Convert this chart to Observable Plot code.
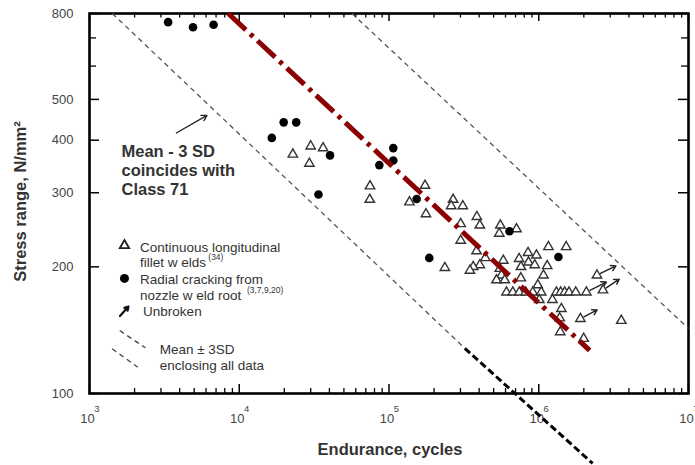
<!DOCTYPE html>
<html><head><meta charset="utf-8">
<script src="https://cdn.jsdelivr.net/npm/d3@7"></script>
<script src="https://cdn.jsdelivr.net/npm/@observablehq/plot@0.6"></script>
<style>
html,body{margin:0;padding:0;background:#fff;}
#chart svg{display:block;}
</style></head><body><div id="chart"></div>
<script>
// ---- data (endurance N in cycles, stress range S in N/mm²) ----
const filletWelds = [
  [22800,370],[30000,387],[36300,383],[29400,352],[74700,311],[74400,289],[137000,285],
  [174000,312],[176500,267],[268000,289],[260000,279],[311000,279],[386000,263],[404000,251],
  [301000,253],[301000,231],[554000,251],[545000,240],[710000,246],[384000,218],[440000,210],
  [404000,202],[365000,200],[347000,196],[236000,199],[580000,207],[550000,198],[564000,191],
  [522000,186],[593000,186],[739000,209],[761000,200],[848000,216],[965000,213],[854000,205],
  [940000,202],[759000,188],[1161000,223],[1525000,223],[1139000,201],[1075000,191],[985000,181],
  [609000,174],[671000,174],[741000,174],[819000,174],[912000,174],[1039000,174],[1312000,174],
  [1401000,174],[1491000,174],[1592000,174],[1765000,174],
  [1008000,167],[1234000,167],[1416000,159],[1380000,151],[1391000,140],[1995000,135],[3558000,149]
];
const unbrokenPoints = [[1897000,150.5],[2447000,191],[2684000,176],[2080000,174]];
const unbrokenTips   = [[2455000,158],[3276000,201],[3446000,187],[2827000,184]];
const nozzleRoot = [
  [3350,763],[4910,742],[6740,752],[16500,405],[19800,441],[24000,441],[40400,368],
  [33800,297],[106800,383],[106800,358],[86200,349],[153000,290],[185700,210],
  [637700,243],[1353000,211]
];
const lowerBound = [[1420,800],[321000,128]];
const lowerExtension = [[321000,128],[2290000,68.2]];
const upperBound = [[56650,800],[10000000,142.7]];
const designLine = [[8450,800],[2188000,126.6]];

const xTicks = [1e3,1e4,1e5,1e6,1e7];
const yTicks = [100,200,300,400,500,800];
const yMinor = [600,700];

// annotation anchors (data space)
const noteArrow = [[3800,416],[6090,458]];
const legendSamples = {
  triangle: [1712,224.8], circle: [1712,187.7],
  arrow: [[1597,152.8],[1820,161]],
  dash1: [[1592,141.1],[2362,128.4]], dash2: [[1417,127.7],[2099,115.5]]
};
const texts = [
  {t:"Mean - 3 SD\ncoincides with\nClass 71", N:1635, S:340.6, kind:"note"},
  {t:"Continuous longitudinal\nfillet w elds", N:2171, S:214.1, kind:"leg"},
  {t:"Radial cracking from\nnozzle w eld root", N:2171, S:179.4, kind:"leg"},
  {t:"Unbroken", N:2280, S:156.9, kind:"leg"},
  {t:"Mean \u00b1 3SD\nenclosing all data", N:2942, S:122.3, kind:"leg"}
];
const sups = [{t:"(34)", N:6214, S:210.2},{t:"(3,7,9,20)", N:11250, S:175.8}];

const xMinor = d3.scaleLog().domain([1e3,1e7]).ticks()
  .filter(d => Math.abs(Math.log10(d) - Math.round(Math.log10(d))) > 1e-9);

const FW = 599, FH = 380;
const P = d => d[0], Q = d => d[1];

const chart = Plot.plot({
  width: 695, height: 465,
  marginLeft: 89, marginRight: 7, marginTop: 13, marginBottom: 72,
  x: {type: "log", domain: [1e3, 1e7], axis: null},
  y: {type: "log", domain: [100, 800], axis: null},
  style: {fontFamily: "'Liberation Sans', Arial, sans-serif", background: "white", overflow: "visible"},
  marks: [
    // ticks (inward)
    Plot.ruleX(xTicks, {x: d => d, insetTop: FH - 9, stroke: "#000", strokeWidth: 1.5}),
    Plot.ruleX(xMinor, {x: d => d, insetTop: FH - 5, stroke: "#000", strokeWidth: 1.3}),
    Plot.ruleX(xTicks, {x: d => d, insetBottom: FH - 8, stroke: "#000", strokeWidth: 1.5}),
    Plot.ruleX(xMinor, {x: d => d, insetBottom: FH - 4.5, stroke: "#000", strokeWidth: 1.3}),
    Plot.ruleY(yTicks, {y: d => d, insetRight: FW - 10, stroke: "#000", strokeWidth: 1.5}),
    Plot.ruleY(yMinor, {y: d => d, insetRight: FW - 7, stroke: "#000", strokeWidth: 1.3}),
    Plot.ruleY(yTicks, {y: d => d, insetLeft: FW - 10, stroke: "#000", strokeWidth: 1.5}),
    Plot.ruleY(yMinor, {y: d => d, insetLeft: FW - 7, stroke: "#000", strokeWidth: 1.3}),
    Plot.frame({stroke: "#000", strokeWidth: 2.6}),
    // tick labels
    Plot.text(yTicks, {y: d => d, frameAnchor: "left", text: d => String(d), textAnchor: "end", lineAnchor: "middle", dx: -16, fontSize: 13, fill: "#444"}),
    Plot.text(xTicks, {x: d => d, frameAnchor: "bottom", text: () => "10", textAnchor: "middle", lineAnchor: "middle", dx: -2, dy: 25, fontSize: 13, fill: "#444"}),
    Plot.text(xTicks, {x: d => d, frameAnchor: "bottom", text: d => String(Math.round(Math.log10(d))), textAnchor: "middle", lineAnchor: "middle", dx: 7.5, dy: 15, fontSize: 9.5, fill: "#444"}),
    // axis titles
    Plot.text(["Stress range, N/mm\u00b2"], {frameAnchor: "left", textAnchor: "middle", lineAnchor: "middle", dx: -69, dy: -2, rotate: -90, fontSize: 16.5, fontWeight: "bold", fill: "#333"}),
    Plot.text(["Endurance, cycles"], {frameAnchor: "bottom", textAnchor: "middle", lineAnchor: "middle", dx: 1, dy: 56, fontSize: 16.5, fontWeight: "bold", fill: "#333"}),
    // bound lines
    Plot.line(lowerBound, {x: P, y: Q, stroke: "#555", strokeWidth: 1.3, strokeDasharray: "5,4", strokeLinecap: "butt"}),
    Plot.line(upperBound, {x: P, y: Q, stroke: "#555", strokeWidth: 1.3, strokeDasharray: "5,4", strokeLinecap: "butt"}),
    Plot.line(lowerExtension, {x: P, y: Q, stroke: "#000", strokeWidth: 3, strokeDasharray: "7,3.5", strokeLinecap: "butt"}),
    // unbroken arrows
    Plot.arrow(unbrokenPoints.map((p, i) => [p, unbrokenTips[i]]), {
      x1: d => d[0][0], y1: d => d[0][1], x2: d => d[1][0], y2: d => d[1][1],
      insetStart: 4, headLength: 6, stroke: "#222", strokeWidth: 1.4}),
    // data points
    Plot.dot(filletWelds.concat(unbrokenPoints), {x: P, y: Q, symbol: "triangle", r: 3.5, fill: "white", stroke: "#333", strokeWidth: 1.4}),
    Plot.dot(nozzleRoot, {x: P, y: Q, r: 4.3, fill: "#000"}),
    // design line
    Plot.line(designLine, {x: P, y: Q, stroke: "#8b0000", strokeWidth: 5, strokeDasharray: "24,6,4,6", strokeLinecap: "butt"}),
    // annotation
    Plot.arrow([noteArrow], {x1: d => d[0][0], y1: d => d[0][1], x2: d => d[1][0], y2: d => d[1][1], headLength: 7, stroke: "#222", strokeWidth: 1.3}),
    Plot.text(texts.filter(d => d.kind === "note"), {x: "N", y: "S", text: "t", textAnchor: "start", lineHeight: 1.15, fontSize: 16.5, fontWeight: "bold", fill: "#333"}),
    // legend
    Plot.dot([legendSamples.triangle], {x: P, y: Q, symbol: "triangle", r: 3.5, fill: "white", stroke: "#222", strokeWidth: 1.8}),
    Plot.dot([legendSamples.circle], {x: P, y: Q, r: 4.5, fill: "#000"}),
    Plot.arrow([legendSamples.arrow], {x1: d => d[0][0], y1: d => d[0][1], x2: d => d[1][0], y2: d => d[1][1], headLength: 6, stroke: "#111", strokeWidth: 2.2}),
    Plot.line(legendSamples.dash1, {x: P, y: Q, stroke: "#444", strokeWidth: 1.3, strokeDasharray: "5,4", strokeLinecap: "butt"}),
    Plot.line(legendSamples.dash2, {x: P, y: Q, stroke: "#444", strokeWidth: 1.3, strokeDasharray: "5,4", strokeLinecap: "butt"}),
    Plot.text(texts.filter(d => d.kind === "leg"), {x: "N", y: "S", text: "t", textAnchor: "start", lineHeight: 1.16, fontSize: 13.5, fill: "#333"}),
    Plot.text(sups, {x: "N", y: "S", text: "t", textAnchor: "start", fontSize: 8.5, fill: "#333"})
  ]
});
document.getElementById("chart").appendChild(chart);
</script>
</body></html>
